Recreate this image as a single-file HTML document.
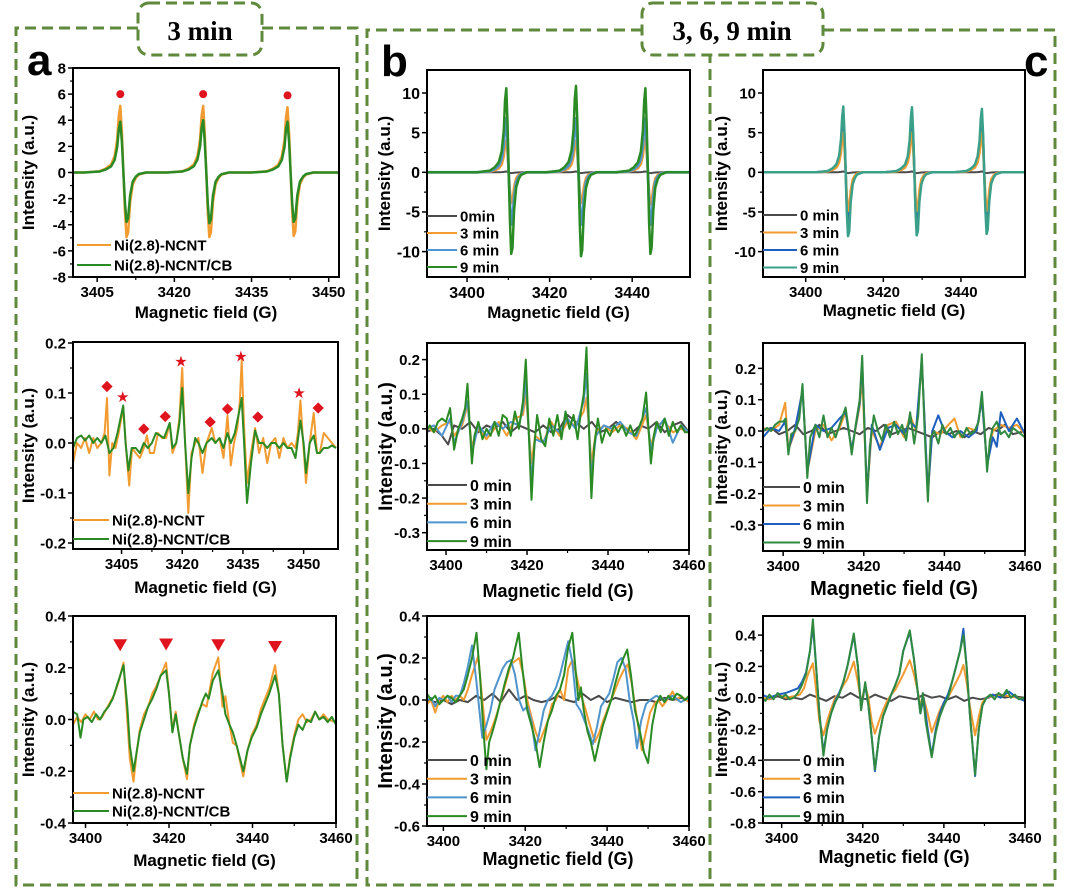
<!DOCTYPE html>
<html><head><meta charset="utf-8"><style>
html,body{margin:0;padding:0;background:#fff;}
svg{display:block;font-family:"Liberation Sans",Arial,sans-serif;}
</style></head><body>
<svg id="fig" width="1080" height="889" viewBox="0 0 1080 889" xmlns="http://www.w3.org/2000/svg">
<g fill="none" stroke="#5f8a3c" stroke-width="3" stroke-dasharray="11 6">
<path d="M138 28 H16 V885 H357 V28 H262"/>
<path d="M642 30 H367 V885 H710 V55"/>
<path d="M823 30 H1055 V885 H710"/>
<rect x="138" y="3" width="124" height="52" rx="11" fill="#fff"/>
<rect x="642" y="3" width="181" height="52" rx="11" fill="#fff"/>
</g>
<text x="200" y="40" text-anchor="middle" font-family="Liberation Serif,serif" font-weight="bold" font-size="27">3 min</text>
<text x="732" y="40" text-anchor="middle" font-family="Liberation Serif,serif" font-weight="bold" font-size="27">3, 6, 9 min</text>
<text x="27" y="75" font-weight="bold" font-size="44">a</text>
<text x="381" y="76" font-weight="bold" font-size="44">b</text>
<text x="1024" y="76" font-weight="bold" font-size="44">c</text>
<g id="plots"></g>
</svg>
<script>
// ---------- data ----------
const shapeOffsets = [-7,-4,-2.8,-1.8,-1.1,-0.6,-0.3,0,0.3,0.6,0.9,1.2,1.5,1.9,2.4,3.0,3.6,5,7];
const shapeValues  = [0,0.02,0.06,0.12,0.25,0.5,0.85,1,0.6,0,-0.6,-0.97,-0.9,-0.45,-0.18,-0.08,-0.03,0,0];

const aTopCenters = [3409.5,3425.6,3442];
const aTopOrangeAmps = [5.1,5.1,5.0];
const aTopGreenAmps = [3.9,4.0,3.9];
const bTopCenters = [3409.5,3426.4,3443.2];
const bTopGrayAmps = [0.1,0.1,0.1];
const bTopOrangeAmps = [4.0,4.0,4.2];
const bTopBlueAmps = [6.8,6.8,6.8];
const bTopGreenAmps = [10.6,10.9,10.6];
const cTopCenters = [3409.7,3427.4,3445.4];
const cTopGrayAmps = [0.1,0.1,0.1];
const cTopOrangeAmps = [5.0,5.0,5.0];
const cTopBlueAmps = [7.0,7.0,6.8];
const cTopGreenAmps = [8.3,8.2,8.0];

const aTopMarkersX = [3409.5,3425.6,3442];
const aTopMarkersY = [6,6,5.9];
const aMidDiamondsX = [3401.4,3410.5,3415.8,3426.9,3431.2,3438.7,3453.6];
const aMidDiamondsY = [0.113,0.028,0.053,0.042,0.068,0.052,0.07];
const aMidStarsX = [3405.3,3419.7,3434.5,3448.9];
const aMidStarsY = [0.092,0.163,0.173,0.1];
const aBotTrianglesX = [3408.3,3419.3,3431.8,3445.4];
const aBotTrianglesY = [0.287,0.29,0.287,0.28];

const aMidOrange = [[3393,-0.04],[3394,0.0],[3395,-0.01],[3396,0.01],[3397,-0.02],[3398,0.01],[3399,-0.01],[3400,0.0],[3400.8,0.02],[3401.4,0.09],[3402,-0.065],[3402.7,0.0],[3403.5,-0.01],[3404.3,0.02],[3405.4,0.07],[3406.2,-0.02],[3406.9,-0.085],[3407.6,-0.01],[3408.5,-0.02],[3409.5,-0.03],[3410.5,-0.01],[3411.3,0.015],[3412,-0.02],[3413,-0.02],[3414,0.02],[3415,0.01],[3416,0.01],[3416.9,0.04],[3417.6,-0.02],[3418.5,0.0],[3419.3,0.05],[3420,0.15],[3420.7,0.0],[3421.5,-0.14],[3422.3,-0.02],[3423.2,0.0],[3424,0.01],[3425,-0.06],[3426,0.0],[3427.3,0.03],[3428.2,0.0],[3429.2,0.01],[3430.2,-0.03],[3431.2,0.055],[3432,-0.045],[3432.8,0.0],[3433.6,0.03],[3434.2,0.08],[3434.7,0.165],[3435.3,0.03],[3436,-0.08],[3437,-0.02],[3438,0.03],[3439,-0.02],[3440,0.01],[3441,-0.04],[3442,0.0],[3443,0.01],[3444,-0.03],[3445,0.01],[3446,-0.01],[3447,0.0],[3448,-0.01],[3448.6,0.02],[3449.2,0.085],[3449.9,0.0],[3450.6,-0.08],[3451.5,0.0],[3452.5,0.06],[3453.3,-0.02],[3454,-0.02],[3455,0.02],[3456,0.01],[3457,0.0],[3458,-0.01]];
const aMidGreen = [[3393,-0.01],[3394,0.01],[3395,0.015],[3396,0.005],[3397,0.015],[3398,0.0],[3399,0.01],[3400,0.0],[3401,0.015],[3402,-0.02],[3403,-0.01],[3404,0.02],[3405.4,0.075],[3406,0.0],[3406.7,-0.055],[3407.5,-0.01],[3408.5,-0.01],[3409.5,-0.02],[3410.5,0.0],[3411.5,-0.01],[3412.5,0.0],[3413.5,0.02],[3414.5,0.015],[3415.5,0.01],[3416.9,0.04],[3417.6,-0.01],[3418.5,0.0],[3419.3,0.04],[3420,0.11],[3420.7,0.0],[3421.5,-0.10],[3422.3,-0.03],[3423.2,0.01],[3424,0.0],[3425,-0.02],[3426,0.0],[3427.3,0.01],[3428.2,0.0],[3429.2,0.01],[3430.2,-0.01],[3431.2,0.02],[3432,0.0],[3433,0.02],[3434,0.06],[3434.7,0.09],[3435.3,0.0],[3436,-0.12],[3437,-0.04],[3438,0.025],[3439,0.0],[3440,0.0],[3441,-0.01],[3442,0.0],[3443,0.0],[3444,-0.01],[3445,0.0],[3446,-0.01],[3447,-0.01],[3448,-0.03],[3449.2,0.045],[3450,0.0],[3450.6,-0.06],[3451.5,0.0],[3452.5,0.015],[3453.3,-0.02],[3454,-0.02],[3455,-0.01],[3456,-0.01],[3457,-0.005],[3458,-0.01]];

const aBotOrange = [[3397,-0.02],[3398,0.01],[3399,-0.01],[3400,0.02],[3401,0.0],[3402,0.03],[3403,0.0],[3404,0.01],[3405,0.04],[3406,0.07],[3407,0.1],[3408,0.15],[3409.1,0.22],[3410,0.0],[3410.6,-0.15],[3411.5,-0.24],[3412.3,-0.12],[3413,-0.04],[3414,0.02],[3415,0.05],[3416,0.1],[3417,0.13],[3418,0.17],[3419.3,0.22],[3420,0.1],[3420.8,-0.04],[3421.6,0.03],[3422.3,-0.05],[3423.3,-0.15],[3424.3,-0.23],[3425,-0.1],[3426,-0.02],[3427,0.03],[3428,0.06],[3429,0.05],[3430.5,0.18],[3431.8,0.24],[3432.8,0.05],[3433.5,0.09],[3434.5,-0.02],[3435.3,-0.09],[3436.2,-0.1],[3437.8,-0.22],[3438.8,-0.12],[3439.8,-0.06],[3441,-0.02],[3442,0.04],[3443,0.08],[3444,0.12],[3445.4,0.21],[3446.3,0.1],[3447.2,-0.1],[3448.2,-0.24],[3449,-0.14],[3450,-0.06],[3451,0.0],[3452,0.02],[3453,-0.01],[3454,0.0],[3455,0.03],[3456,0.0],[3457,0.02],[3458,0.0],[3460,-0.01]];
const aBotGreen = [[3397,0.03],[3398,0.02],[3398.8,-0.07],[3399.5,0.0],[3400.5,0.01],[3401.5,-0.01],[3402.5,0.02],[3403.5,0.0],[3404.5,0.03],[3405.5,0.05],[3406.5,0.08],[3407.5,0.13],[3409.1,0.21],[3410,0.05],[3410.6,-0.1],[3411.5,-0.2],[3412.3,-0.12],[3413,-0.05],[3414,0.0],[3415,0.05],[3416,0.08],[3417,0.12],[3418,0.17],[3419.3,0.19],[3420,0.1],[3420.8,-0.05],[3421.6,0.02],[3422.3,-0.05],[3423.3,-0.15],[3424.3,-0.21],[3425,-0.1],[3426,-0.03],[3427,0.02],[3428,0.07],[3428.8,0.1],[3429.5,0.08],[3430.5,0.15],[3431.8,0.19],[3432.8,0.1],[3433.5,0.02],[3434.5,-0.02],[3435.3,-0.05],[3436.2,-0.1],[3437.8,-0.2],[3438.8,-0.12],[3439.8,-0.07],[3441,-0.03],[3442,0.02],[3443,0.06],[3444,0.1],[3445.4,0.17],[3446.3,0.1],[3447.2,-0.1],[3448.2,-0.24],[3449,-0.15],[3450,-0.07],[3451,-0.02],[3452,-0.04],[3453,0.0],[3454,-0.01],[3455,0.03],[3456,0.0],[3457,0.01],[3458,-0.01],[3459,0.01],[3460,-0.02]];

const bMidGray = [[3395,-0.01],[3397,0.0],[3399,-0.02],[3400.5,-0.045],[3402,0.01],[3404,0.0],[3406,0.02],[3408,-0.01],[3410,0.01],[3412,0.0],[3414,0.02],[3416,-0.01],[3418,0.01],[3420,0.0],[3422,-0.01],[3424,0.01],[3426,-0.01],[3428,0.0],[3430,0.04],[3432,0.02],[3434,0.0],[3436,0.02],[3438,-0.01],[3440,0.0],[3442,0.02],[3444,0.0],[3446,-0.01],[3448,0.01],[3450,0.0],[3452,0.02],[3454,-0.01],[3456,0.01],[3458,0.02],[3460,-0.01]];
const bMidOrange = [[3395,0.01],[3397,-0.01],[3399,0.01],[3401,0.02],[3402,-0.02],[3404,0.01],[3405.3,0.07],[3406.4,-0.05],[3408,0.0],[3410,-0.03],[3412,0.0],[3413,0.02],[3415,-0.02],[3417,0.03],[3419,0.04],[3419.7,0.1],[3420.4,0.0],[3421.1,-0.1],[3422,-0.02],[3424,-0.04],[3426,0.02],[3428,-0.02],[3430,0.02],[3432,0.01],[3434,0.05],[3434.7,0.09],[3435.3,0.0],[3435.9,-0.1],[3437,-0.01],[3439,0.01],[3441,-0.01],[3443,0.01],[3445,0.0],[3447,-0.03],[3449.4,0.04],[3450.6,-0.05],[3452,0.01],[3454,0.02],[3456,-0.01],[3458,0.0],[3460,-0.01]];
const bMidBlue = [[3395,0.0],[3397,0.01],[3399,-0.02],[3401,0.03],[3402,-0.04],[3404,0.02],[3405.3,0.08],[3406.4,-0.07],[3408,0.01],[3410,-0.02],[3412,0.02],[3414,0.0],[3416,0.02],[3418,0.01],[3419,0.06],[3419.7,0.14],[3420.4,0.0],[3421.1,-0.15],[3422,-0.03],[3424,-0.04],[3426,0.01],[3428,-0.01],[3430,0.03],[3432,0.0],[3434,0.08],[3434.7,0.16],[3435.3,0.0],[3435.9,-0.14],[3437,-0.02],[3439,0.01],[3441,0.0],[3443,0.02],[3445,-0.01],[3447,-0.02],[3449.4,0.06],[3450.6,-0.06],[3452,0.0],[3454,0.03],[3456,-0.04],[3458,0.01],[3460,-0.01]];
const bMidGreen = [[3395,-0.01],[3396,0.01],[3397,-0.01],[3398,0.02],[3399,0.03],[3400,0.02],[3401,0.06],[3402,-0.06],[3403,0.0],[3404,0.03],[3404.7,0.06],[3405.3,0.13],[3405.8,0.02],[3406.4,-0.1],[3407,-0.02],[3408,0.02],[3409,-0.03],[3410,0.0],[3411,-0.02],[3412,0.02],[3413,-0.02],[3414,0.04],[3415,0.03],[3416,-0.02],[3417,0.05],[3418,0.0],[3419,0.08],[3419.7,0.2],[3420.4,0.0],[3421.1,-0.205],[3421.8,-0.05],[3422.5,0.04],[3423.5,-0.03],[3424.5,-0.05],[3425.5,0.03],[3426.5,-0.02],[3427.5,0.04],[3428.5,-0.03],[3429.5,0.05],[3430.5,0.0],[3431.5,0.04],[3432.5,-0.03],[3433.3,0.05],[3434,0.1],[3434.7,0.235],[3435.3,0.0],[3435.9,-0.2],[3436.6,-0.05],[3437.5,0.03],[3438.5,-0.04],[3439.5,0.0],[3440.5,-0.02],[3441.5,0.01],[3442.5,-0.01],[3443.5,0.01],[3444.5,-0.02],[3445.5,0.01],[3446.5,-0.02],[3447.5,0.0],[3448.5,0.03],[3449.4,0.105],[3450,0.0],[3450.6,-0.1],[3451.3,-0.02],[3452,0.02],[3453,-0.01],[3454,0.03],[3455,-0.02],[3456,0.02],[3457,-0.01],[3458,0.01],[3459,-0.01],[3460,-0.01]];

const cMidGray = [[3395,0.0],[3397,0.01],[3399,-0.01],[3401,0.0],[3403,0.02],[3405,-0.01],[3407,0.0],[3409,0.02],[3411,-0.01],[3413,0.0],[3415,0.01],[3417,0.0],[3419,-0.01],[3421,0.01],[3423,0.0],[3425,0.02],[3427,-0.01],[3429,0.0],[3431,0.01],[3433,0.0],[3435,-0.01],[3437,-0.02],[3439,0.0],[3441,-0.01],[3443,0.0],[3445,-0.02],[3447,0.0],[3449,-0.01],[3451,0.01],[3453,0.0],[3455,0.02],[3457,-0.01],[3460,0.0]];
const cMidOrange = [[3395,0.01],[3397,0.0],[3399,0.02],[3400.5,0.09],[3401.3,-0.06],[3403,0.0],[3404.8,0.13],[3406,-0.13],[3408,0.0],[3410,0.02],[3412,-0.03],[3414,0.01],[3415.5,0.06],[3417,-0.06],[3419,0.08],[3419.6,0.17],[3420.8,-0.2],[3422,0.0],[3424,-0.05],[3426,0.02],[3428,0.03],[3430,-0.02],[3431.5,0.05],[3433,0.0],[3434.4,0.22],[3435.9,-0.2],[3437,0.0],[3439,-0.01],[3441,0.02],[3442.5,0.04],[3444,-0.02],[3446,0.01],[3448,0.0],[3449.3,0.1],[3450.6,-0.11],[3452,0.0],[3454,0.02],[3456,0.01],[3458,0.02],[3460,-0.01]];
const cMidBlue = [[3395,-0.02],[3397,0.01],[3399,0.0],[3400.5,0.03],[3401.3,-0.06],[3403,0.01],[3404.8,0.13],[3406,-0.13],[3408,0.02],[3410,0.0],[3412,0.01],[3414,0.04],[3415.5,0.06],[3417,-0.06],[3419,0.09],[3419.6,0.22],[3420.8,-0.2],[3422,0.02],[3424,-0.06],[3426,0.01],[3428,0.02],[3430,-0.01],[3431.5,0.03],[3433,0.01],[3434.4,0.23],[3435.9,-0.2],[3437,0.0],[3438.5,0.05],[3440,0.0],[3442,-0.02],[3444,0.0],[3446,-0.02],[3448,0.0],[3449.3,0.1],[3450.6,-0.11],[3452,-0.02],[3453,-0.05],[3454,0.06],[3456,0.0],[3458,0.04],[3460,-0.01]];
const cMidGreen = [[3395,0.0],[3396,0.01],[3397,0.0],[3398,0.02],[3399,0.03],[3400,0.03],[3400.6,0.04],[3401.3,-0.075],[3402,-0.01],[3403,0.0],[3404,0.04],[3404.8,0.15],[3405.4,0.0],[3406,-0.15],[3406.7,-0.02],[3408,0.02],[3409,-0.02],[3410,0.05],[3411,-0.02],[3412,0.01],[3413,-0.02],[3414,0.02],[3415.5,0.075],[3416.3,0.0],[3417,-0.075],[3418,0.02],[3419,0.1],[3419.6,0.24],[3420.2,0.0],[3420.8,-0.23],[3421.5,-0.05],[3422.5,0.05],[3423.5,0.0],[3424.5,-0.03],[3425.5,0.02],[3426.5,-0.02],[3427.5,0.03],[3428.5,-0.01],[3429.5,0.02],[3430.5,-0.03],[3431.5,0.06],[3432.5,-0.04],[3433.5,0.05],[3434.4,0.245],[3435.1,0.0],[3435.9,-0.225],[3436.6,-0.02],[3437.5,0.0],[3438.5,-0.04],[3439.5,0.02],[3440.5,-0.01],[3441.5,0.01],[3442.5,-0.02],[3443.5,0.0],[3444.5,-0.02],[3445.5,0.01],[3446.5,-0.01],[3447.5,0.0],[3448.5,0.03],[3449.3,0.125],[3450,0.0],[3450.6,-0.13],[3451.3,-0.03],[3452,0.01],[3453,0.03],[3454,-0.01],[3455,0.0],[3456,-0.02],[3457,0.01],[3458,0.0],[3459,-0.01],[3460,-0.02]];

const bBotGray = [[3396,0.0],[3398,-0.01],[3400,0.0],[3402,-0.02],[3404,0.0],[3406,-0.01],[3408,0.02],[3410,0.0],[3412,0.03],[3414,-0.01],[3416,0.05],[3418,0.0],[3420,0.02],[3422,0.0],[3424,-0.01],[3426,0.0],[3428,0.02],[3430,0.0],[3432,-0.01],[3434,0.03],[3436,0.0],[3438,0.02],[3440,-0.01],[3442,0.01],[3444,0.0],[3446,-0.01],[3448,0.0],[3450,0.0],[3452,-0.01],[3454,0.01],[3456,0.0],[3458,0.01],[3460,0.0]];
const bBotOrange = [[3396,-0.02],[3397,0.0],[3398,-0.06],[3399,0.0],[3400,0.02],[3401,-0.01],[3402,0.02],[3403,0.0],[3404,0.02],[3405,0.0],[3406,0.05],[3407,0.12],[3408.5,0.21],[3409.5,0.0],[3410.5,-0.19],[3411.5,-0.15],[3412.5,-0.1],[3413.5,-0.04],[3414.5,0.03],[3415.5,0.1],[3416.5,0.17],[3418.5,0.2],[3419.5,0.12],[3420.5,0.0],[3421.5,-0.08],[3422.5,-0.15],[3423.5,-0.2],[3424.5,-0.15],[3425.5,-0.1],[3426.5,-0.02],[3427.5,0.0],[3428.5,0.05],[3429.5,0.0],[3430.5,0.15],[3431.5,0.19],[3432.5,0.12],[3433.5,0.03],[3434.5,-0.03],[3435.5,-0.1],[3437,-0.2],[3438,-0.16],[3439,-0.1],[3440,-0.05],[3441,0.0],[3442,0.05],[3443,0.1],[3444,0.14],[3445,0.17],[3446,0.08],[3447,-0.05],[3448.5,-0.24],[3449.5,-0.15],[3450.5,-0.06],[3451.5,-0.02],[3452.5,0.0],[3453.5,-0.03],[3455,0.01],[3456,0.04],[3457,0.0],[3458,0.02],[3460,-0.01]];
const bBotBlue = [[3396,0.0],[3397,0.01],[3398,-0.03],[3399,0.01],[3400,0.0],[3401,0.02],[3402,-0.01],[3403,0.02],[3404,0.02],[3405,0.08],[3406,0.16],[3407,0.26],[3408,0.1],[3409.5,-0.18],[3410.5,-0.12],[3411.5,-0.05],[3412.5,0.05],[3413.5,0.1],[3414.5,0.15],[3415.5,0.18],[3416.5,0.19],[3417.5,0.12],[3418.5,0.0],[3419.5,-0.05],[3420.5,-0.03],[3421.5,-0.1],[3422.5,-0.24],[3423.5,-0.15],[3424.5,-0.05],[3425.5,0.0],[3426.5,0.02],[3427.5,0.06],[3428.5,0.12],[3429.5,0.2],[3430.5,0.28],[3431.5,0.18],[3432.5,-0.02],[3433.5,-0.05],[3434.5,-0.1],[3435.5,-0.15],[3436.5,-0.21],[3437.5,-0.13],[3438.5,-0.03],[3439.5,0.0],[3440.5,0.03],[3441.5,0.1],[3442.5,0.18],[3443.5,0.2],[3444.5,0.15],[3445.5,0.0],[3446.5,-0.1],[3447.3,-0.23],[3448.3,-0.1],[3449.5,-0.02],[3450.5,0.0],[3452,0.02],[3454,0.0],[3456,0.02],[3458,-0.01],[3460,0.01]];
const bBotGreen = [[3396,0.03],[3397,0.0],[3398,0.02],[3399,-0.02],[3400,0.0],[3401,0.02],[3402,0.01],[3403,-0.01],[3404,0.02],[3405,0.05],[3406,0.12],[3407,0.2],[3408.1,0.32],[3409,0.1],[3409.8,-0.15],[3410.5,-0.33],[3411.2,-0.2],[3412,-0.15],[3413,-0.08],[3414,0.0],[3415,0.08],[3416,0.15],[3417,0.2],[3418.4,0.32],[3419.3,0.15],[3420.5,-0.05],[3421.5,-0.12],[3422.5,-0.2],[3423.5,-0.32],[3424.5,-0.2],[3425.5,-0.1],[3426.5,-0.05],[3427.5,0.02],[3428.5,0.05],[3429.5,0.12],[3430.5,0.25],[3431.5,0.32],[3432.5,0.1],[3433,0.0],[3433.6,0.06],[3434.3,-0.05],[3435.2,-0.15],[3436,-0.2],[3437,-0.29],[3438,-0.2],[3439,-0.12],[3440,-0.06],[3441,0.0],[3442,0.08],[3443,0.15],[3444,0.2],[3444.9,0.24],[3445.8,0.12],[3446.8,-0.05],[3448,-0.15],[3449,-0.25],[3450,-0.3],[3451,-0.12],[3452,-0.02],[3453,0.02],[3454,-0.01],[3455,0.02],[3456,0.0],[3457,0.03],[3458,0.02],[3459,0.0],[3460,0.02]];

const cBotGray = [[3395,0.0],[3397,-0.01],[3399,0.01],[3401,-0.01],[3403,0.0],[3405,-0.01],[3407,0.02],[3409,0.0],[3411,-0.02],[3413,0.01],[3415,0.0],[3417,0.03],[3419,0.0],[3421,-0.01],[3423,0.02],[3425,0.0],[3427,-0.02],[3429,0.01],[3431,0.0],[3433,-0.01],[3435,0.02],[3437,0.0],[3439,0.01],[3441,-0.01],[3443,0.01],[3445,-0.02],[3447,0.0],[3449,-0.01],[3451,0.0],[3453,0.02],[3455,0.0],[3457,0.01],[3460,0.0]];
const cBotOrange = [[3395,0.0],[3397,-0.01],[3399,0.02],[3401,0.0],[3403,0.01],[3404.5,0.02],[3405.5,0.06],[3406.5,0.15],[3407.7,0.22],[3408.5,0.05],[3409.3,-0.15],[3410.3,-0.24],[3411.2,-0.15],[3412.2,-0.07],[3413.2,0.0],[3414.2,0.03],[3415.2,0.08],[3416.2,0.12],[3417.8,0.23],[3418.8,0.1],[3419.6,-0.03],[3420.6,0.08],[3421.4,0.0],[3422.2,-0.15],[3423,-0.23],[3424,-0.15],[3425,-0.08],[3426,-0.02],[3427,0.02],[3428,0.05],[3429,0.1],[3430,0.15],[3431.6,0.24],[3432.6,0.15],[3433.5,0.05],[3434.2,-0.05],[3435,0.0],[3436,-0.1],[3437,-0.22],[3438,-0.15],[3439,-0.08],[3440,-0.03],[3441,0.0],[3442,0.05],[3443,0.1],[3444,0.15],[3444.8,0.21],[3445.6,0.1],[3446.4,-0.05],[3447.7,-0.24],[3448.6,-0.12],[3449.5,-0.03],[3450.5,0.0],[3452,0.01],[3454,0.02],[3456,0.01],[3458,0.0],[3460,-0.01]];
const cBotBlue = [[3395,0.02],[3397,0.0],[3399,0.02],[3401,0.03],[3403,0.05],[3404,0.06],[3405,0.1],[3406,0.16],[3407,0.3],[3407.7,0.46],[3408.5,0.2],[3409.3,-0.1],[3410.3,-0.35],[3411.2,-0.2],[3412.2,-0.1],[3413.2,-0.02],[3414.2,0.03],[3415.2,0.1],[3416.2,0.2],[3417.8,0.4],[3418.8,0.2],[3419.6,-0.06],[3420.6,0.08],[3421.4,-0.05],[3422.2,-0.25],[3423,-0.47],[3424,-0.25],[3425,-0.12],[3426,-0.05],[3427,0.02],[3428,0.08],[3429,0.15],[3430,0.3],[3431.6,0.42],[3432.6,0.25],[3433.5,0.05],[3434.2,-0.1],[3435,0.0],[3436,-0.2],[3437,-0.37],[3438,-0.2],[3439,-0.1],[3440,-0.03],[3441,0.02],[3442,0.1],[3443,0.2],[3444,0.3],[3444.8,0.44],[3445.6,0.2],[3446.4,-0.1],[3447.7,-0.5],[3448.6,-0.2],[3449.5,-0.05],[3450.5,0.0],[3452,0.02],[3454,0.0],[3456,0.04],[3458,0.0],[3460,-0.02]];
const cBotGreen = [[3395,0.0],[3396,-0.02],[3397,0.02],[3398,-0.01],[3399,0.03],[3400,0.0],[3401,0.02],[3402,-0.01],[3403,0.0],[3404,0.03],[3405,0.08],[3406,0.15],[3407,0.3],[3407.7,0.5],[3408.5,0.2],[3409.3,-0.1],[3410.3,-0.37],[3411.2,-0.2],[3412.2,-0.1],[3413.2,-0.03],[3414.2,0.02],[3415.2,0.1],[3416.2,0.2],[3417.8,0.41],[3418.8,0.2],[3419.6,-0.08],[3420.6,0.1],[3421.4,-0.05],[3422.2,-0.25],[3423,-0.46],[3424,-0.25],[3425,-0.12],[3426,-0.05],[3427,0.02],[3428,0.08],[3429,0.15],[3430,0.3],[3431.6,0.43],[3432.6,0.25],[3433.5,0.05],[3434.2,-0.1],[3434.8,0.03],[3435.5,-0.15],[3437,-0.38],[3438,-0.22],[3439,-0.12],[3440,-0.05],[3441,0.0],[3442,0.1],[3443,0.2],[3444,0.3],[3444.8,0.4],[3445.6,0.2],[3446.4,-0.1],[3447.7,-0.49],[3448.6,-0.2],[3449.5,-0.05],[3450.5,0.0],[3451.5,0.02],[3452.5,-0.01],[3453.5,0.03],[3454.5,0.01],[3455.5,0.05],[3456.5,0.0],[3457.5,0.02],[3458.5,-0.01],[3460,0.0]];

const aXTicksTop = [3405,3420,3435,3450];
const bcXTicksTop = [3400,3420,3440];
const xTicksWide = [3400,3420,3440,3460];
const aTopYTicks = [-8,-6,-4,-2,0,2,4,6,8];
const bcTopYTicks = [-10,-5,0,5,10];
const aMidYTicks = [-0.2,-0.1,0.0,0.1,0.2];
const bcMidYTicks = [-0.3,-0.2,-0.1,0.0,0.1,0.2];
const aBotYTicks = [-0.4,-0.2,0.0,0.2,0.4];
const bBotYTicks = [-0.6,-0.4,-0.2,0.0,0.2,0.4];
const cBotYTicks = [-0.8,-0.6,-0.4,-0.2,0.0,0.2,0.4];

const legendA = ["Ni(2.8)-NCNT","Ni(2.8)-NCNT/CB"];
const legendBTop = ["0min","3 min","6 min","9 min"];
const legendTimes = ["0 min","3 min","6 min","9 min"];

// ---------- drawing ----------
const NS = "http://www.w3.org/2000/svg";
const root = document.getElementById("plots");
function mk(parent, tag, attrs, txt){
  const e = document.createElementNS(NS, tag);
  for (const k in attrs) e.setAttribute(k, attrs[k]);
  if (txt !== undefined) e.textContent = txt;
  parent.appendChild(e);
  return e;
}
function expand(centers, amps, xr){
  const pts = [[xr[0],0]];
  centers.forEach((c,i)=>{ shapeOffsets.forEach((o,j)=>{ pts.push([c+o, amps[i]*shapeValues[j]]); }); });
  pts.push([xr[1],0]);
  return pts;
}
let clipId = 0;
function panel(p){
  const g = mk(root, "g", {});
  
  
  const [x0,y0,x1,y1] = p.box;
  const sx = v => x0 + (v - p.xr[0])/(p.xr[1]-p.xr[0])*(x1-x0);
  const sy = v => y1 - (v - p.yr[0])/(p.yr[1]-p.yr[0])*(y1-y0);
  const cid = "clip"+(clipId++);
  const cp = mk(g, "clipPath", {id:cid});
  mk(cp, "rect", {x:x0, y:y0, width:x1-x0, height:y1-y0});
  const fs = p.fs || 15;
  p.xticks.forEach(t=>{
    const X = sx(t);
    const tk = mk(g, "line", {x1:X, x2:X, y1:y1, y2:y1+5, stroke:"#000", "stroke-width":1.5});
    
    
    const lb = mk(g, "text", {x:X, y:y1+fs+5, "text-anchor":"middle", "font-weight":"bold", "font-size":fs}, String(t));
    
    
  });
  for (let i=0;i<p.xticks.length-1;i++){
    const X = sx((p.xticks[i]+p.xticks[i+1])/2);
    const mt = mk(g, "line", {x1:X, x2:X, y1:y1, y2:y1+3, stroke:"#000", "stroke-width":1.2});
    
    
  }
  p.yticks.forEach((t,i)=>{
    const Y = sy(t);
    const tk = mk(g, "line", {x1:x0-5, x2:x0, y1:Y, y2:Y, stroke:"#000", "stroke-width":1.5});
    
    
    const lb = mk(g, "text", {x:x0-7, y:Y+fs*0.36, "text-anchor":"end", "font-weight":"bold", "font-size":fs}, t.toFixed(p.ydec));
    
    
    if (i < p.yticks.length-1){
      const Ym = sy((t+p.yticks[i+1])/2);
      const mt = mk(g, "line", {x1:x0-3, x2:x0, y1:Ym, y2:Ym, stroke:"#000", "stroke-width":1.2});
      
      
    }
  });
  const sg = mk(g, "g", {"clip-path":"url(#"+cid+")"});
  
  
  p.series.forEach(s=>{
    const d = s.data.map((q,i)=>(i?"L":"M")+sx(q[0]).toFixed(1)+" "+sy(q[1]).toFixed(1)).join(" ");
    const pl = mk(sg, "path", {d:d, fill:"none", stroke:s.color, "stroke-width":s.w||2, "stroke-linejoin":"round"});
    
    
  });
  const fr = mk(g, "rect", {x:x0, y:y0, width:x1-x0, height:y1-y0, fill:"none", stroke:"#000", "stroke-width":2});
  
  
  p.legend.labels.forEach((lab,i)=>{
    const L = p.legend;
    const Y = L.y + i*L.dy;
    const ll = mk(g, "line", {x1:L.x, x2:L.x+L.len, y1:Y, y2:Y, stroke:L.colors[i], "stroke-width":2});
    
    
    const lt = mk(g, "text", {x:L.x+L.len+3, y:Y+L.fs*0.36, "font-weight":"bold", "font-size":L.fs}, lab);
    
    
  });
  const xt = mk(g, "text", {x:(x0+x1)/2, y:p.xtY, "text-anchor":"middle", "font-weight":"bold", "font-size":p.tfs||17}, "Magnetic field (G)");
  
  
  const yc = (y0+y1)/2;
  const yt = mk(g, "text", {x:p.ytX, y:yc, "text-anchor":"middle", "font-weight":"bold", "font-size":p.ytfs||17, transform:"rotate(-90 "+p.ytX+" "+yc+")"}, "Intensity (a.u.)");
  
  
  return {g, sx, sy};
}

const GRAY="#4a4a4a", OR="#f29b30", BL="#4f94cd", GR="#2a8a24", BL2="#1f5fbf", TEAL="#3aa08a";

const aTopXr=[3400.3,3452];
const pa1 = panel({name:"panel-a-top", box:[73,68,339,277], xr:aTopXr, yr:[-8,8], xticks:aXTicksTop, yticks:aTopYTicks, ydec:0, xtY:318, ytX:34,
  series:[{data:expand(aTopCenters,aTopOrangeAmps,aTopXr), color:OR, name:"series-ni-ncnt", w:2.5},{data:expand(aTopCenters,aTopGreenAmps,aTopXr), color:GR, name:"series-ni-ncnt-cb", w:2.5}],
  legend:{x:77,y:245,dy:20,len:34,fs:15,labels:legendA,colors:[OR,GR]}});
aTopMarkersX.forEach((x,i)=>{
  const c = mk(pa1.g, "circle", {cx:pa1.sx(x), cy:pa1.sy(aTopMarkersY[i]), r:4, fill:"#e0141e"});
  
  
});
const pa2 = panel({name:"panel-a-mid", box:[73,342,338,549], xr:[3393,3458.5], yr:[-0.212,0.202], xticks:aXTicksTop, yticks:aMidYTicks, ydec:1, xtY:593, ytX:34,
  series:[{data:aMidOrange, color:OR, name:"series-ni-ncnt"},{data:aMidGreen, color:GR, name:"series-ni-ncnt-cb"}],
  legend:{x:73,y:520,dy:19,len:36,fs:15,labels:legendA,colors:[OR,GR]}});
aMidDiamondsX.forEach((x,i)=>{
  const X=pa2.sx(x), Y=pa2.sy(aMidDiamondsY[i]);
  const d = mk(pa2.g, "rect", {x:X-4, y:Y-4, width:8, height:8, fill:"#e0141e", transform:"rotate(45 "+X+" "+Y+")"});
  
  
});
aMidStarsX.forEach((x,i)=>{
  const s = mk(pa2.g, "text", {x:pa2.sx(x), y:pa2.sy(aMidStarsY[i])+5, "text-anchor":"middle", "font-size":15, fill:"#e0141e", "font-family":"DejaVu Sans,sans-serif"}, "★");
  
  
});
const pa3 = panel({name:"panel-a-bottom", box:[73,616,336,823], xr:[3397,3460], yr:[-0.4,0.4], xticks:xTicksWide, yticks:aBotYTicks, ydec:1, xtY:866, ytX:34,
  series:[{data:aBotOrange, color:OR, name:"series-ni-ncnt"},{data:aBotGreen, color:GR, name:"series-ni-ncnt-cb"}],
  legend:{x:73,y:793,dy:18,len:36,fs:15,labels:legendA,colors:[OR,GR]}});
aBotTrianglesX.forEach((x,i)=>{
  const X=pa3.sx(x), Y=pa3.sy(aBotTrianglesY[i]);
  const t = mk(pa3.g, "polygon", {points:(X-7)+","+(Y-6)+" "+(X+7)+","+(Y-6)+" "+X+","+(Y+6), fill:"#e0141e"});
  
  
});
const bTopXr=[3390.3,3454];
panel({name:"panel-b-top", box:[427,70,690,277], xr:bTopXr, yr:[-13.2,12.9], xticks:bcXTicksTop, yticks:bcTopYTicks, ydec:0, fs:16, xtY:318, ytX:390,
  series:[{data:expand(bTopCenters,bTopGrayAmps,bTopXr), color:GRAY, name:"series-0min"},{data:expand(bTopCenters,bTopOrangeAmps,bTopXr), color:OR, name:"series-3min", w:2.5},{data:expand(bTopCenters,bTopBlueAmps,bTopXr), color:BL, name:"series-6min", w:2.8},{data:expand(bTopCenters,bTopGreenAmps,bTopXr), color:GR, name:"series-9min", w:2.5}],
  legend:{x:427,y:216,dy:17,len:30,fs:15,labels:legendBTop,colors:[GRAY,OR,BL,GR]}});
const cTopXr=[3389,3456.5];
panel({name:"panel-c-top", box:[763,70,1025,277], xr:cTopXr, yr:[-13.2,12.9], xticks:bcXTicksTop, yticks:bcTopYTicks, ydec:0, xtY:316, ytX:727,
  series:[{data:expand(cTopCenters,cTopGrayAmps,cTopXr), color:GRAY, name:"series-0min"},{data:expand(cTopCenters,cTopBlueAmps,cTopXr), color:BL2, name:"series-6min", w:2.5},{data:expand(cTopCenters,cTopOrangeAmps,cTopXr), color:OR, name:"series-3min", w:2.5},{data:expand(cTopCenters,cTopGreenAmps,cTopXr), color:TEAL, name:"series-9min", w:2.5}],
  legend:{x:763,y:215,dy:17.5,len:34,fs:15,labels:legendTimes,colors:[GRAY,OR,BL2,TEAL]}});
panel({name:"panel-b-mid", box:[427,343,689,550], xr:[3395.3,3460], yr:[-0.35,0.248], xticks:xTicksWide, yticks:bcMidYTicks, ydec:1, fs:15, xtY:597, ytX:392, ytfs:19, tfs:18,
  series:[{data:bMidGray, color:GRAY, name:"series-0min"},{data:bMidOrange, color:OR, name:"series-3min"},{data:bMidBlue, color:BL, name:"series-6min"},{data:bMidGreen, color:GR, name:"series-9min"}],
  legend:{x:427,y:485,dy:18.7,len:40,fs:16,labels:legendTimes,colors:[GRAY,OR,BL,GR]}});
panel({name:"panel-c-mid", box:[763,343,1025,551], xr:[3395,3460], yr:[-0.383,0.281], xticks:xTicksWide, yticks:bcMidYTicks, ydec:1, fs:15, xtY:595, ytX:727, tfs:20,
  series:[{data:cMidGray, color:GRAY, name:"series-0min"},{data:cMidOrange, color:OR, name:"series-3min"},{data:cMidBlue, color:BL2, name:"series-6min"},{data:cMidGreen, color:"#2f8a40", name:"series-9min"}],
  legend:{x:763,y:487,dy:18.5,len:37,fs:16,labels:legendTimes,colors:[GRAY,OR,BL2,"#2f8a40"]}});
panel({name:"panel-b-bottom", box:[427,616,689,826], xr:[3396,3460], yr:[-0.6,0.4], xticks:xTicksWide, yticks:bBotYTicks, ydec:1, fs:15, xtY:865, ytX:392, ytfs:20, tfs:18,
  series:[{data:bBotGray, color:GRAY, name:"series-0min"},{data:bBotOrange, color:OR, name:"series-3min"},{data:bBotBlue, color:BL, name:"series-6min"},{data:bBotGreen, color:GR, name:"series-9min"}],
  legend:{x:427,y:760,dy:18.7,len:40,fs:16,labels:legendTimes,colors:[GRAY,OR,BL,GR]}});
panel({name:"panel-c-bottom", box:[763,616,1025,823], xr:[3395.4,3460], yr:[-0.8,0.522], xticks:xTicksWide, yticks:cBotYTicks, ydec:1, fs:15, xtY:863, ytX:727, tfs:18,
  series:[{data:cBotGray, color:GRAY, name:"series-0min"},{data:cBotOrange, color:OR, name:"series-3min"},{data:cBotBlue, color:BL2, name:"series-6min"},{data:cBotGreen, color:"#2f8a40", name:"series-9min"}],
  legend:{x:763,y:760,dy:18.7,len:37,fs:16,labels:legendTimes,colors:[GRAY,OR,BL2,"#2f8a40"]}});
</script>
</body></html>
